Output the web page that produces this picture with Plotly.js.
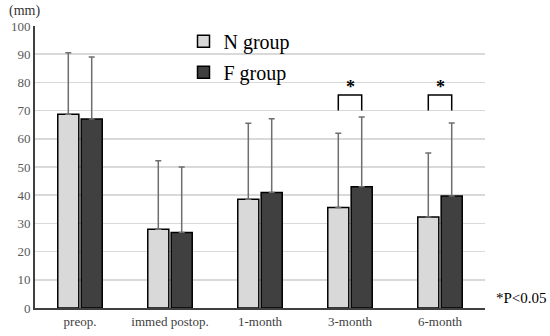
<!DOCTYPE html>
<html>
<head>
<meta charset="utf-8">
<script src="https://cdn.plot.ly/plotly-3.0.1.min.js"></script>
</head>
<body style="margin:0;background:#fff">
<div id="chart" style="width:550px;height:336px"></div>
<script>
const categories = ["preop.", "immed postop.", "1-month", "3-month", "6-month"];
const nGroup = [68.7, 27.9, 38.6, 35.6, 32.3];
const nUpperErr = [21.8, 24.3, 26.9, 26.4, 22.7];
const fGroup = [67.0, 26.8, 41.0, 43.0, 39.7];
const fUpperErr = [22.0, 23.2, 26.1, 24.7, 25.9];
const sigCategories = [3, 4];
const sigBracketLow = 70;
const sigBracketHigh = 75.5;
const yTicks = [0, 10, 20, 30, 40, 50, 60, 70, 80, 90, 100];

const bargap = 0.48;
const serif = "Liberation Serif";

const traces = [
  {
    type: "bar", name: "N group", x: categories, y: nGroup, legendgroup: "n",
    marker: {color: "#d9d9d9", line: {color: "#000", width: 1.5}},
    error_y: {type: "data", array: nUpperErr, arrayminus: nUpperErr.map(() => 0), symmetric: false, color: "#6e6e6e", thickness: 1.5, width: 3}
  },
  {
    type: "bar", name: "F group", x: categories, y: fGroup, legendgroup: "f",
    marker: {color: "#404040", line: {color: "#000", width: 1.5}},
    error_y: {type: "data", array: fUpperErr, arrayminus: fUpperErr.map(() => 0), symmetric: false, color: "#6e6e6e", thickness: 1.5, width: 3}
  }
];

const off = (1 - bargap) / 4;
const shapes = [];
const annotations = [];
sigCategories.forEach(ci => {
  const x0 = ci - off, x1 = ci + off;
  shapes.push({type: "path", xref: "x", yref: "y",
    path: `M ${x0} ${sigBracketLow} L ${x0} ${sigBracketHigh} L ${x1} ${sigBracketHigh} L ${x1} ${sigBracketLow}`,
    line: {color: "#000", width: 1.5}});
  annotations.push({xref: "x", yref: "y", x: ci, y: sigBracketHigh, text: "<b>*</b>", showarrow: false,
    yanchor: "bottom", yshift: -4, font: {family: serif, size: 18, color: "#000"}});
});
annotations.push({xref: "paper", yref: "paper", x: -0.062, y: 1.0, xanchor: "left", yanchor: "bottom", yshift: 5,
  text: "(mm)", showarrow: false, font: {family: serif, size: 14, color: "#333"}});
annotations.push({xref: "paper", yref: "paper", x: 1.02, y: 0.035, xanchor: "left", yanchor: "middle",
  text: "*P<0.05", showarrow: false, font: {family: serif, size: 15, color: "#000"}});

const layout = {
  width: 550, height: 336,
  font: {family: serif},
  margin: {l: 35, r: 65, t: 26, b: 28},
  paper_bgcolor: "#fff", plot_bgcolor: "#fff",
  barmode: "group", bargap: bargap, bargroupgap: 0.1,
  showlegend: true,
  legend: {x: 0.33, y: 1.015, xanchor: "left", yanchor: "top", bgcolor: "rgba(0,0,0,0)",
    font: {family: serif, size: 20, color: "#000"}, traceorder: "grouped", tracegroupgap: 2},
  xaxis: {type: "category", showline: true, linecolor: "#404040", linewidth: 2, ticks: "",
    tickfont: {family: serif, size: 13, color: "#404040"}, showgrid: false, zeroline: false},
  yaxis: {range: [0, 100], tickvals: yTicks, showline: true, linecolor: "#404040", linewidth: 2,
    gridcolor: "#d9d9d9", gridwidth: 1.5, zeroline: false, ticks: "",
    tickfont: {family: serif, size: 13, color: "#595959"}},
  shapes: shapes, annotations: annotations
};

Plotly.newPlot("chart", traces, layout, {displayModeBar: false, staticPlot: true});
</script>
</body>
</html>
